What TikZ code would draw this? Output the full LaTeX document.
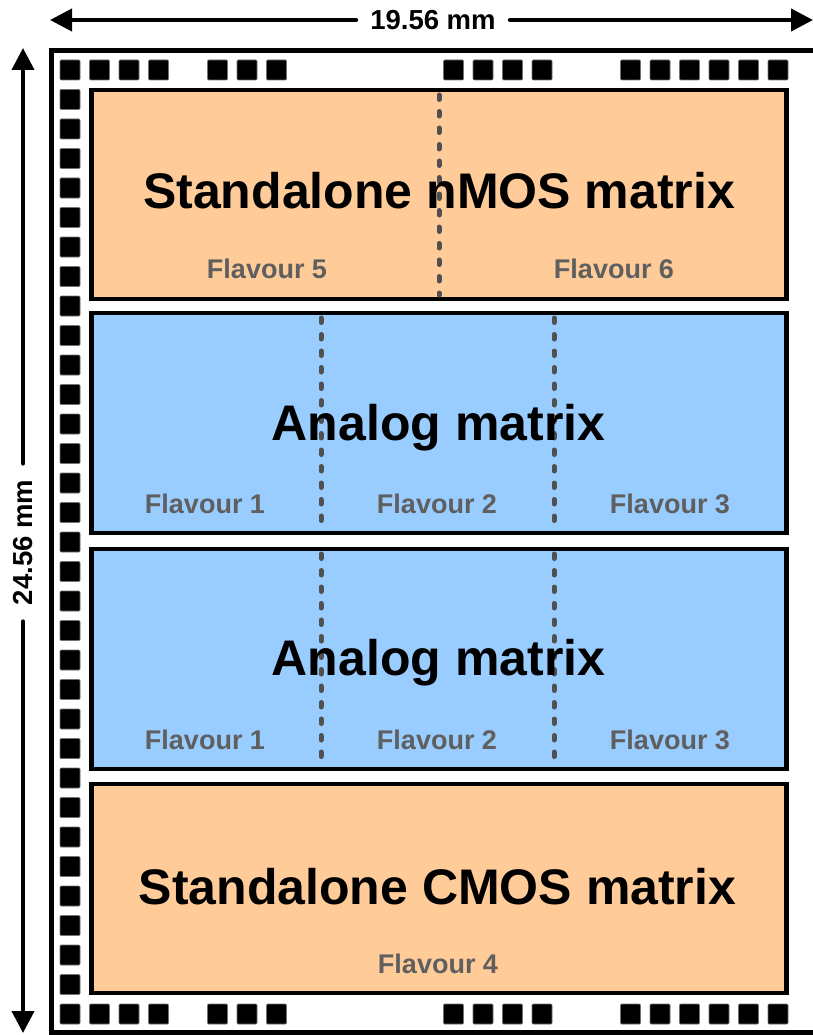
\documentclass[tikz,border=0pt]{standalone}
\usepackage{fontspec}
\setmainfont{Liberation Sans}
\usetikzlibrary{arrows.meta,shadows}
\definecolor{peachc}{HTML}{FFCC99}
\definecolor{bluec}{HTML}{99CCFF}
\definecolor{flavgray}{HTML}{5F5F5F}
\definecolor{divgray}{HTML}{505050}
\begin{document}
\begin{tikzpicture}[x=1pt,y=-1pt,
  block/.style={draw=black,line width=4.5pt,minimum width=695pt,inner sep=0pt,anchor=center,
    drop shadow={shadow xshift=1.6pt,shadow yshift=-1.6pt,fill=black!55,opacity=1}},
  peachbox/.style={block,fill=peachc,minimum height=209pt},
  bluebox/.style={block,fill=bluec,minimum height=220pt},
  title/.style={font=\fontsize{50}{51}\selectfont\bfseries,anchor=base,inner sep=0pt},
  flav/.style={font=\fontsize{27}{28}\selectfont\bfseries,text=flavgray,anchor=base,inner sep=0pt},
  divider/.style={draw=divgray,line width=5pt,line cap=round,dash pattern=on 4.5pt off 12pt},
  pad/.style={fill=black,draw=black!55,line width=0.6pt,rounded corners=1pt},
  dim/.style={line width=4pt,line cap=round,-{Triangle[length=22pt,width=22pt]}},
  dimlab/.style={font=\fontsize{27.5}{28}\selectfont\bfseries,fill=white,inner xsep=14pt,inner ysep=4pt}
]
\useasboundingbox (0,0) rectangle (813,1035);
% chip outline
\draw[line width=5pt] (51,50.5) rectangle (840,1032);
% pads
\foreach \k in {0,...,32} \draw[pad] (60,{60+29.5*\k}) rectangle ++(20,20);
\foreach \k in {1,2,3,5,6,7,13,14,15,16,19,20,21,22,23,24} {
  \draw[pad] ({60+29.5*\k},60) rectangle ++(20,20);
  \draw[pad] ({60+29.5*\k},1004) rectangle ++(20,20);
}
% blocks
\node[peachbox] (nmos) at (439,194.5) {};
\node[bluebox] (ana1) at (439,423) {};
\node[bluebox] (ana2) at (439,659) {};
\node[peachbox] (cmos) at (439,888.5) {};
% dividers
\draw[divider] (439,95) -- (439,295);
\draw[divider] (321,318) -- (321,529);
\draw[divider] (554,318) -- (554,529);
\draw[divider] (321,554) -- (321,765);
\draw[divider] (554,554) -- (554,765);
% titles
\node[title] (t1) at (439,208) {Standalone nMOS matrix};
\node[title] (t2) at (438.5,440) {Analog matrix};
\node[title] (t3) at (438.5,675) {Analog matrix};
\node[title] (t4) at (437.5,904) {Standalone CMOS matrix};
% flavours
\node[flav] (f5) at (267,278) {Flavour 5};
\node[flav] (f6) at (614,278) {Flavour 6};
\node[flav] (f1a) at (205,513) {Flavour 1};
\node[flav] (f2a) at (437,513) {Flavour 2};
\node[flav] (f3a) at (670,513) {Flavour 3};
\node[flav] (f1b) at (205,749) {Flavour 1};
\node[flav] (f2b) at (437,749) {Flavour 2};
\node[flav] (f3b) at (670,749) {Flavour 3};
\node[flav] (f4) at (438,973) {Flavour 4};
% dimensions
\coordinate (hl) at (50,20);
\coordinate (hr) at (813,20);
\node[dimlab] (hlab) at (433,20) {19.56 mm};
\draw[dim] (hlab) -- (hl);
\draw[dim] (hlab) -- (hr);
\coordinate (vt) at (23,48);
\coordinate (vb) at (23,1033);
\node[dimlab,rotate=90,inner xsep=16pt] (vlab) at (23,542.5) {24.56 mm};
\draw[dim] (vlab) -- (vt);
\draw[dim] (vlab) -- (vb);
\end{tikzpicture}
\end{document}
